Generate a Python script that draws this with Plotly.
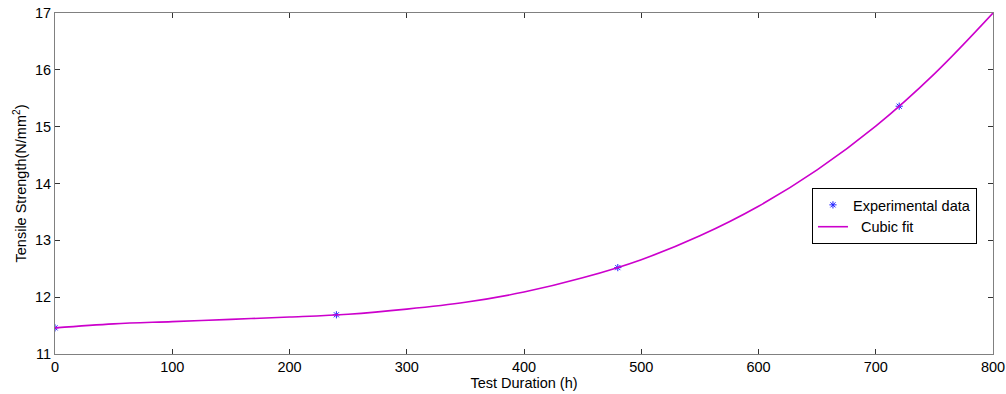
import plotly.graph_objects as go

# Experimental data
exp_hours = [0, 240, 480, 720]
exp_strength = [11.46, 11.69, 12.52, 15.36]

# Cubic fit curve values
fit_hours = [0, 50, 100, 150, 200, 250, 300, 350, 400, 450, 500, 550, 600, 650, 700, 750, 800]
fit_strength = [11.46, 11.53, 11.57, 11.61, 11.65, 11.70, 11.79, 11.91, 12.09, 12.34,
                12.66, 13.08, 13.60, 14.24, 15.01, 15.93, 17.00]

x_ticks = [0, 100, 200, 300, 400, 500, 600, 700, 800]
y_ticks = [11, 12, 13, 14, 15, 16, 17]

FONT = "Liberation Sans, Arial, sans-serif"
FS = 14.5

fig = go.Figure()
fig.add_trace(go.Scatter(
    x=exp_hours, y=exp_strength, mode="markers", name="Experimental data",
    marker=dict(symbol="asterisk-open", size=6, color="#2020ff",
                line=dict(color="#2020ff", width=1)),
))
fig.add_trace(go.Scatter(
    x=fit_hours, y=fit_strength, mode="lines", name="  Cubic fit",
    line=dict(color="#cc00cc", width=1.6, shape="spline"),
))

axis_common = dict(
    showgrid=False, zeroline=False, showline=True, mirror="ticks",
    linecolor="#808080", linewidth=1, ticks="inside", ticklen=5,
    tickcolor="#333333", tickwidth=1, automargin=False,
    ticklabeloverflow="allow",
    tickfont=dict(family=FONT, size=FS, color="#000000"),
)

fig.update_layout(
    width=1006, height=394,
    margin=dict(l=55, r=13, t=13, b=40),
    paper_bgcolor="white", plot_bgcolor="white",
    font=dict(family=FONT, size=FS, color="#000000"),
    xaxis=dict(range=[0, 800], tickvals=x_ticks,
               title=dict(text="Test Duration (h)", font=dict(family=FONT, size=FS), standoff=0),
               **axis_common),
    yaxis=dict(range=[11, 17], tickvals=y_ticks,
               title=dict(text="Tensile Strength(N/mm<sup>2</sup>)", font=dict(family=FONT, size=FS), standoff=4),
               **axis_common),
    legend=dict(x=0.807, y=0.487, xanchor="left", yanchor="top",
                bgcolor="white", bordercolor="#000000", borderwidth=1,
                font=dict(family=FONT, size=FS), tracegroupgap=0,
                itemwidth=30),
    showlegend=True,
)

fig.write_html("out.html", config={"displayModeBar": False},
               post_script="document.body.style.margin='0';document.body.style.overflow='hidden';")
